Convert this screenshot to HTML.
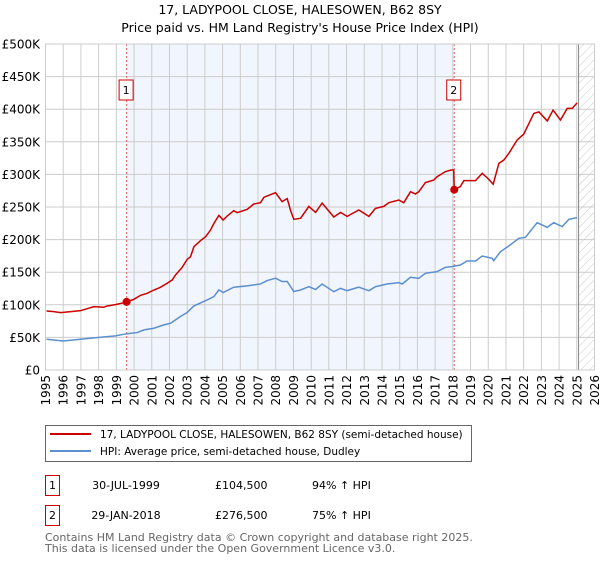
<!DOCTYPE html>
<html><head><meta charset="utf-8"><style>
body{margin:0;background:#fff;width:600px;height:560px;overflow:hidden;font-family:"DejaVu Sans","Liberation Sans",sans-serif}
svg text{font-family:"DejaVu Sans","Liberation Sans",sans-serif}
</style></head><body>
<svg id="chart" width="600" height="560" xmlns="http://www.w3.org/2000/svg">
<defs><pattern id="hatch" width="6" height="6" patternUnits="userSpaceOnUse" patternTransform="rotate(45)"><line x1="0" y1="0" x2="0" y2="6" stroke="#bbb" stroke-width="0.8"/></pattern></defs>
<text x="300" y="14" text-anchor="middle" font-size="12.5">17, LADYPOOL CLOSE, HALESOWEN, B62 8SY</text>
<text x="300" y="32" text-anchor="middle" font-size="12.5">Price paid vs. HM Land Registry's House Price Index (HPI)</text>
<g id="plot"></g>
<g>
<rect x="45.5" y="425.5" width="426" height="36" fill="#fff" stroke="#666"/>
<line x1="50" y1="434" x2="91" y2="434" stroke="#cc0000" stroke-width="2"/>
<text x="100" y="438" font-size="10.5">17, LADYPOOL CLOSE, HALESOWEN, B62 8SY (semi-detached house)</text>
<line x1="50" y1="451" x2="91" y2="451" stroke="#5b8fd0" stroke-width="2"/>
<text x="100" y="455" font-size="10.5">HPI: Average price, semi-detached house, Dudley</text>
</g>
<g font-size="11">
<rect x="45.5" y="475.5" width="14" height="20" fill="#fff" stroke="#cc0000"/>
<text x="52.5" y="489" text-anchor="middle">1</text>
<text x="126" y="489" text-anchor="middle">30-JUL-1999</text>
<text x="215" y="489">£104,500</text>
<text x="312" y="489">94% ↑ HPI</text>
<rect x="45.5" y="505.5" width="14" height="20" fill="#fff" stroke="#cc0000"/>
<text x="52.5" y="519" text-anchor="middle">2</text>
<text x="126" y="519" text-anchor="middle">29-JAN-2018</text>
<text x="215" y="519">£276,500</text>
<text x="312" y="519">75% ↑ HPI</text>
</g>
<text x="45" y="541" font-size="11" fill="#666">Contains HM Land Registry data © Crown copyright and database right 2025.</text>
<text x="45" y="552" font-size="11" fill="#666">This data is licensed under the Open Government Licence v3.0.</text>
</svg>
<script>
const yearTicks=[1995,1996,1997,1998,1999,2000,2001,2002,2003,2004,2005,2006,2007,2008,2009,2010,2011,2012,2013,2014,2015,2016,2017,2018,2019,2020,2021,2022,2023,2024,2025,2026];
const valueTicks=[0,50,100,150,200,250,300,350,400,450,500];
const valueLabels=["£0","£50K","£100K","£150K","£200K","£250K","£300K","£350K","£400K","£450K","£500K"];
const saleYears=[1999.58,2018.08];
const saleValues=[104.5,276.5];
const saleLabels=["1","2"];
const projectionStart=2025.1;
const redYears=[1995.06,1995.47,1995.85,1996.22,1996.98,1997.35,1997.73,1998.29,1998.48,1998.95,1999.52,1999.58,1999.99,2000.37,2000.74,2001.12,2001.49,2001.87,2002.15,2002.34,2002.72,2003.0,2003.19,2003.38,2003.75,2004.04,2004.32,2004.51,2004.79,2005.03,2005.26,2005.63,2005.82,2006.39,2006.76,2007.14,2007.33,2007.7,2007.99,2008.36,2008.65,2008.83,2009.02,2009.4,2009.87,2010.25,2010.62,2011.28,2011.66,2012.03,2012.69,2013.26,2013.63,2014.1,2014.39,2014.95,2015.23,2015.61,2015.89,2016.08,2016.45,2016.93,2017.11,2017.58,2017.9,2018.05,2018.08,2018.42,2018.62,2019.28,2019.66,2020.03,2020.28,2020.6,2020.88,2021.16,2021.63,2021.73,2022.01,2022.57,2022.86,2023.33,2023.66,2024.08,2024.46,2024.74,2025.02];
const redValues=[90.5,89.5,88,89,91,94,97.2,96.2,98.2,100.3,103.8,104.5,108.4,114.6,117.6,122.7,126.8,133,138,145.7,157.5,169.7,173.8,189.1,198.3,204.5,214.7,224.9,237.2,230,236.2,244.4,241.3,246.4,254.6,256.6,264.8,268.9,272,258.2,262.8,245.4,231.1,232.6,250.9,241.7,256,234.6,241.7,235.6,245.4,235.6,247.9,250.9,256.6,260.7,256.6,273.5,270,273.5,287.4,291.4,296.5,304.2,306.7,306.7,276.5,281.1,290.4,290.4,301.6,292.4,285,317,322,332.2,352.6,355.2,362,393.5,396,382,398.6,383.4,401.2,401.2,409.8];
const blueYears=[1995.06,1995.47,1995.99,1996.98,1998.1,1998.95,1999.52,2000.18,2000.56,2001.12,2001.68,2002.06,2002.62,2003.0,2003.38,2004.13,2004.51,2004.79,2005.03,2005.63,2006.39,2007.14,2007.52,2007.99,2008.36,2008.65,2009.02,2009.4,2009.87,2010.25,2010.62,2011.28,2011.66,2012.03,2012.69,2013.26,2013.63,2014.29,2014.95,2015.14,2015.61,2016.08,2016.45,2017.11,2017.58,2017.96,2018.42,2018.81,2019.28,2019.66,2020.22,2020.31,2020.69,2021.16,2021.73,2022.1,2022.76,2023.33,2023.7,2024.18,2024.55,2025.02];
const blueValues=[47.1,46.1,44.5,47.1,50.2,52.3,55.3,57.4,61.5,64,69.2,71.7,82,88.1,98.3,107.5,112.7,122.9,118.8,127,129,132,137.2,140.8,135.7,135.7,120.4,122.7,127.8,123.5,131.9,120.1,125.2,121.7,127,121.7,127.8,131.9,134,131.9,142.2,140.6,148.3,150.8,157.5,158.5,161,167.2,167.2,174.8,171.3,167.7,181.5,190.2,202,203.5,226,218.8,226,219.9,231.1,233.7];
const X0=45.5,X1=594.5,Y0=370,Y1=44;
const xs=y=>X0+(y-1995)*(X1-X0)/31;
const ys=v=>Y0-(v/500)*(Y0-Y1);
const NS="http://www.w3.org/2000/svg";
const g=document.getElementById('plot');
function mk(tag,attrs){const e=document.createElementNS(NS,tag);for(const k in attrs)e.setAttribute(k,attrs[k]);g.appendChild(e);return e;}
let el;
el=mk('rect',{x:xs(saleYears[0]),y:Y1,width:xs(saleYears[1])-xs(saleYears[0]),height:Y0-Y1,fill:'#eef3fc',opacity:0.8});


el=mk('rect',{x:xs(projectionStart),y:Y1,width:X1-xs(projectionStart),height:Y0-Y1,fill:'url(#hatch)'});


yearTicks.forEach(yr=>{
  el=mk('line',{x1:xs(yr),x2:xs(yr),y1:Y1,y2:Y0,stroke:'#ccc','stroke-width':1});
  
  
  el=mk('text',{x:0,y:0,'font-size':12,'text-anchor':'end',transform:`translate(${xs(yr)+4.5},375) rotate(-90)`});
  el.textContent=yr;
  
  
});
valueTicks.forEach((v,i)=>{
  el=mk('line',{x1:X0,x2:X1,y1:ys(v),y2:ys(v),stroke:'#ccc','stroke-width':1});
  
  
  el=mk('text',{x:40,y:ys(v)+4.5,'font-size':12,'text-anchor':'end'});
  el.textContent=valueLabels[i];
  
  
});
el=mk('line',{x1:xs(projectionStart),x2:xs(projectionStart),y1:Y1,y2:Y0,stroke:'#888','stroke-width':1});


saleYears.forEach((yr,i)=>{
  el=mk('line',{x1:xs(yr),x2:xs(yr),y1:Y1,y2:Y0,stroke:'#e06666','stroke-width':1,'stroke-dasharray':'2,2'});
  
  
  el=mk('rect',{x:xs(yr)-7.5,y:80,width:14,height:20,fill:'#fff',stroke:'#cc0000'});
  
  
  el=mk('text',{x:xs(yr)-0.5,y:94,'font-size':11,'text-anchor':'middle'});
  el.textContent=saleLabels[i];
  
  
});
el=mk('rect',{x:X0,y:Y1,width:X1-X0,height:Y0-Y1,fill:'none',stroke:'#ccc'});


el=mk('polyline',{points:blueYears.map((y,i)=>xs(y)+','+ys(blueValues[i])).join(' '),fill:'none',stroke:'#5b8fd0','stroke-width':1.5});


el=mk('polyline',{points:redYears.map((y,i)=>xs(y)+','+ys(redValues[i])).join(' '),fill:'none',stroke:'#cc0000','stroke-width':1.5});


saleYears.forEach((yr,i)=>{
  el=mk('circle',{cx:xs(yr),cy:ys(saleValues[i]),r:4,fill:'#cc0000'});
  
  
});
</script>
</body></html>
